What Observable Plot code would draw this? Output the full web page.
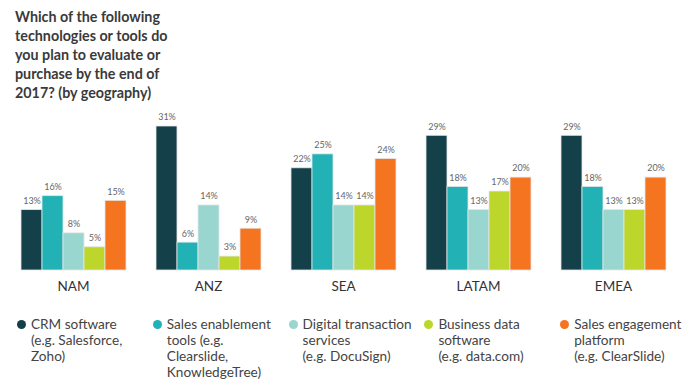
<!DOCTYPE html>
<html>
<head>
<meta charset="utf-8">
<script src="https://cdn.jsdelivr.net/npm/d3@7"></script>
<script src="https://cdn.jsdelivr.net/npm/@observablehq/plot@0.6"></script>
<style>
  body { margin: 0; background: #fff; font-family: Lato, "Open Sans", sans-serif; }
  #wrap { position: relative; width: 696px; height: 389px; overflow: hidden; }
  #title { position: absolute; left: 15px; top: 7px; font-weight: bold; font-size: 14.3px; line-height: 19px; color: #3a3a3a; }
  #chart { position: absolute; left: 0; top: 105px; }
  #legend { position: absolute; left: 0; top: 316px; width: 696px; }
  .item { position: absolute; top: 0; font-size: 13.6px; line-height: 16px; color: #444; }
  .dot { position: absolute; left: 0; top: 3.5px; width: 9px; height: 9px; border-radius: 50%; }
  .lab { position: absolute; left: 14px; top: 0; white-space: nowrap; }
</style>
</head>
<body>
<div id="wrap">
  <div id="title">Which of the following<br>technologies or tools do<br>you plan to evaluate or<br>purchase by the end of<br>2017? (by geography)</div>
  <div id="chart"></div>
  <div id="legend"></div>
</div>
<script>
const regions = ["NAM", "ANZ", "SEA", "LATAM", "EMEA"];
const series = ["CRM software", "Sales enablement tools", "Digital transaction services", "Business data software", "Sales engagement platform"];
const legendLines = [
  ["CRM software", "(e.g. Salesforce,", "Zoho)"],
  ["Sales enablement", "tools (e.g.", "Clearslide,", "KnowledgeTree)"],
  ["Digital transaction", "services", "(e.g. DocuSign)"],
  ["Business data", "software", "(e.g. data.com)"],
  ["Sales engagement", "platform", "(e.g. ClearSlide)"]
];
const colors = ["#14404a", "#22b2b5", "#99d6cf", "#bdd62b", "#f4741f"];
const crm = [13, 31, 22, 29, 29];
const enablement = [16, 6, 25, 18, 18];
const digital = [8, 14, 14, 13, 13];
const business = [5, 3, 14, 17, 13];
const engagement = [15, 9, 24, 20, 20];

const valuesBySeries = [crm, enablement, digital, business, engagement];
const data = [];
regions.forEach((r, i) => {
  series.forEach((s, j) => {
    data.push({region: r, series: s, value: valuesBySeries[j][i]});
  });
});

const chart = Plot.plot({
  width: 696,
  height: 195,
  marginLeft: 17,
  marginRight: 27,
  marginTop: 21,
  marginBottom: 30,
  style: {fontFamily: "Lato, 'Open Sans', sans-serif", background: "transparent"},
  fx: {domain: regions, paddingInner: 0.2, paddingOuter: 0, label: null},
  x: {domain: series, padding: 0, axis: null},
  y: {domain: [0, 31], axis: null},
  color: {domain: series, range: colors},
  marks: [
    Plot.barY(data, {fx: "region", x: "series", y: "value", fill: "series", stroke: "#e6e6e6", strokeWidth: 0.8}),
    Plot.text(data, {fx: "region", x: "series", y: "value", text: d => d.value + "%", dy: -9, fontSize: 9, fill: "#666"}),
    Plot.axisFx({anchor: "bottom", tickSize: 0, tickPadding: 11, fontSize: 13.5, fill: "#333", label: null})
  ]
});
document.getElementById("chart").appendChild(chart);

const legend = document.getElementById("legend");
series.forEach((s, i) => {
  const item = document.createElement("div");
  item.className = "item";
  item.style.left = (17 + i * 135.8) + "px";
  const dot = document.createElement("div");
  dot.className = "dot";
  dot.style.background = colors[i];
  const lab = document.createElement("div");
  lab.className = "lab";
  lab.innerHTML = legendLines[i].join("<br>");
  item.appendChild(dot);
  item.appendChild(lab);
  legend.appendChild(item);
});
</script>
</body>
</html>
